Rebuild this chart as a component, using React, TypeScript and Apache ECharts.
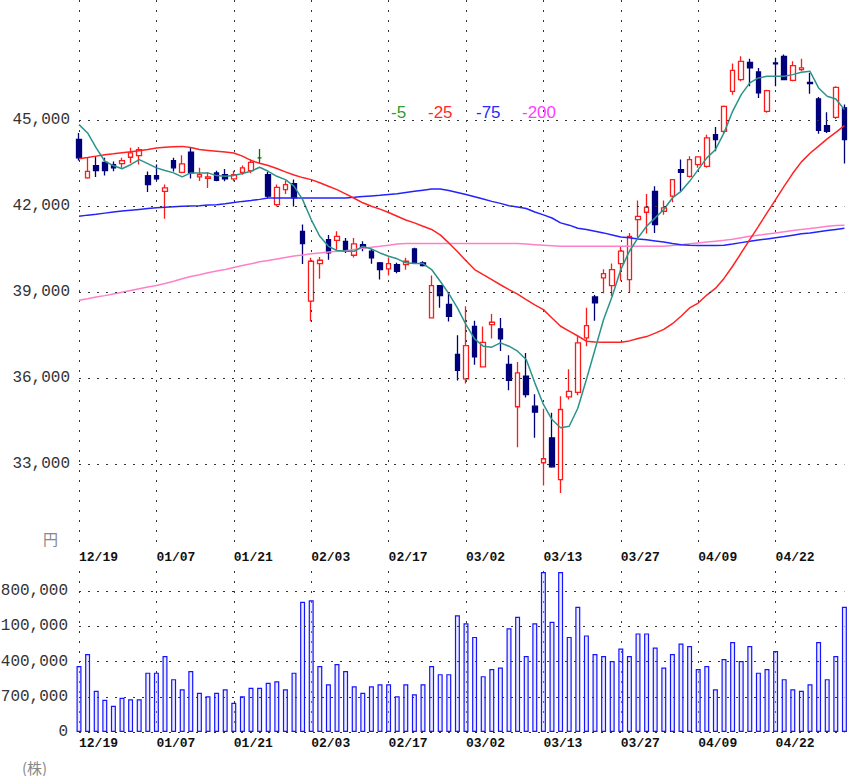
import React, { useEffect, useRef } from "react";
import * as echarts from "echarts";

const DATES = [
  "12/19","12/22","12/23","12/24","12/25","12/26","12/29","12/30","01/06","01/07",
  "01/08","01/09","01/13","01/14","01/15","01/16","01/19","01/20","01/21",
  "01/22","01/23","01/26","01/27","01/28","01/29","01/30","02/02","02/03",
  "02/04","02/05","02/06","02/09","02/10","02/12","02/13","02/16","02/17",
  "02/18","02/19","02/20","02/23","02/24","02/25","02/26","02/27","03/02",
  "03/03","03/04","03/05","03/06","03/09","03/10","03/11","03/12","03/13",
  "03/16","03/17","03/18","03/19","03/23","03/24","03/25","03/26","03/27",
  "03/30","03/31","04/01","04/02","04/03","04/06","04/07","04/08","04/09",
  "04/10","04/13","04/14","04/15","04/16","04/17","04/20","04/21","04/22",
  "04/23","04/24","04/27","04/28","04/30","05/01","05/07","05/08",
];

// [open, close, low, high]
const OHLC = [
  [44330,43690,43600,44560],[42990,43220,42960,43690],[43420,43245,43025,43745],[43535,43245,43070,43690],
  [43455,43340,43220,43565],[43490,43595,43340,43690],[43710,43860,43510,44040],[43770,43980,43455,44070],
  [43070,42755,42500,43210],[43070,42955,42900,43455],[42520,42640,41560,42760],[43595,43340,43210,43690],
  [43185,43480,43150,43780],[43885,43165,42965,44040],[43025,43105,42885,43340],[42975,43025,42640,43185],
  [43165,42905,42870,43240],[43105,42955,42870,43300],[42955,43105,42870,43240],[43185,43340,43100,43420],
  [43245,43535,43150,43640],[43690,43690,43500,44000],[43105,42350,42290,43200],[42060,42660,41990,42760],
  [42580,42755,42430,42900],[42790,42290,41990,42930],[41125,40695,39980,41360],[38685,40080,37985,40200],
  [40000,40115,39470,40230],[40835,40370,40130,41000],[40810,40950,40480,41125],[40775,40430,40370,40890],
  [40290,40685,40210,40890],[40660,40545,40430,40775],[40430,40195,39990,40510],[40025,39790,39440,40050],
  [39815,40000,39580,40210],[39965,39730,39660,40025],[39965,40080,39780,40200],[40510,40025,39990,40550],
  [40025,39930,39900,40080],[38105,39230,38105,39580],[39230,38880,38460,39230],[38570,38160,37980,39000],
  [36825,36275,35915,37500],[35975,37135,35810,38510],[37810,36740,36470,38000],[36395,37250,36370,37800],
  [37870,37950,37380,38240],[37720,37370,36950,38100],[36475,35925,35580,36800],[35000,36185,33590,36560],
  [36065,35425,35320,36880],[35020,34810,33920,35440],[33045,33185,32250,34930],[33915,32905,32870,34790],
  [32460,34905,31990,35370],[35345,35540,35250,36310],[35505,37230,35400,37460],[37405,37835,37115,38455],
  [38835,38625,38000,38900],[39500,39650,38965,39800],[39230,39790,38860,40000],[40000,40430,39400,40600],
  [39440,40950,39000,41070],[41535,41650,40870,42200],[41790,41965,41050,42430],[42520,41360,41070,42700],
  [41825,41945,41700,42200],[42350,42930,42140,42930],[43280,43185,42520,43630],[43045,43630,43000,43745],
  [43455,43725,43340,43745],[43395,44385,43340,44500],[44500,44325,43920,44770],[44615,45490,44560,45515],
  [46010,46745,45895,46980],[46420,47060,46360,47235],[47025,46830,46185,47145],[46690,45955,45780,46830],
  [45315,46035,45260,46070],[47000,46970,46185,47180],[47235,46420,46395,47295],[46395,46910,46360,47060],
  [46770,46830,46710,47145],[46325,46280,45930,46655],[45745,44650,44535,45815],[44815,44615,44560,45280],
  [45105,46150,45050,46185],[45435,44325,43490,45550],
];

const DOJI_GREEN = [21];

const VOLUME = [
  1310000,1550000,820000,640000,520000,680000,650000,650000,1180000,1180000,
  1510000,1050000,850000,1210000,780000,710000,780000,850000,580000,710000,
  880000,880000,980000,1010000,850000,1180000,2590000,2620000,1310000,950000,
  1350000,1210000,910000,780000,910000,950000,950000,710000,950000,750000,
  950000,1310000,1150000,1150000,2320000,2160000,1890000,1110000,1250000,1280000,
  2060000,2290000,1510000,2160000,3180000,2190000,3180000,1890000,2490000,1920000,
  1550000,1510000,1410000,1660000,1510000,1960000,1960000,1680000,1280000,1550000,
  1760000,1710000,1250000,1310000,850000,1450000,1790000,1410000,1710000,1180000,
  1250000,1610000,1050000,850000,820000,950000,1790000,1050000,1510000,2490000,
];

const MA5 = [
  44850,44560,44040,43570,43420,43310,43450,43630,43490,43340,
  43245,43165,43025,43165,43165,43165,43070,43045,43070,43140,
  43220,43360,43220,43045,42930,42700,42230,41535,40950,40600,
  40455,40430,40430,40600,40510,40370,40255,40165,40025,40000,
  40000,39790,39380,38950,38450,37870,37370,37115,37080,37230,
  37115,36940,36650,35835,35080,34555,34265,34320,34950,35950,
  37000,38045,38860,39790,40430,40895,41300,41595,41885,42290,
  42520,42870,43280,43690,43975,44560,45315,45895,46305,46480,
  46535,46535,46535,46595,46675,46710,46130,45840,45745,45375,
];

const MA25 = [
  43660,43700,43750,43800,43830,43870,43900,43940,43980,44030,
  44060,44080,44090,44050,43980,43950,43920,43890,43860,43750,
  43600,43500,43420,43320,43200,43090,43000,42930,42820,42700,
  42580,42430,42280,42120,42000,41900,41780,41650,41520,41420,
  41300,41190,41000,40720,40420,40100,39790,39610,39440,39260,
  39090,38930,38740,38560,38390,38100,37810,37640,37470,37290,
  37260,37250,37250,37250,37300,37380,37450,37570,37700,37900,
  38160,38450,38620,38900,39130,39480,39905,40370,40837,41300,
  41768,42230,42700,43150,43550,43850,44100,44350,44580,44815,
];

const MA75 = [
  41650,41690,41720,41760,41800,41830,41860,41890,41920,41945,
  41965,41985,42000,42010,42020,42040,42055,42090,42130,42170,
  42200,42240,42290,42290,42290,42290,42290,42290,42290,42290,
  42290,42290,42310,42340,42360,42380,42410,42440,42480,42520,
  42560,42600,42600,42550,42480,42410,42330,42250,42170,42100,
  42020,41970,41920,41800,41700,41590,41420,41340,41230,41190,
  41130,41070,41000,40930,40900,40860,40830,40790,40750,40700,
  40660,40640,40630,40630,40630,40640,40680,40730,40780,40820,
  40860,40900,40940,40990,41040,41070,41110,41150,41190,41230,
];

const MA200 = [
  38720,38770,38830,38880,38940,39000,39060,39120,39180,39230,
  39300,39380,39470,39550,39610,39680,39740,39790,39860,39930,
  39990,40060,40110,40160,40210,40260,40300,40340,40370,40400,
  40430,40450,40490,40530,40570,40600,40640,40680,40700,40700,
  40700,40700,40700,40700,40700,40700,40700,40700,40700,40700,
  40700,40700,40680,40660,40640,40620,40600,40600,40600,40600,
  40600,40600,40600,40600,40600,40600,40600,40600,40600,40630,
  40660,40690,40720,40750,40780,40810,40850,40900,40950,40990,
  41030,41070,41110,41150,41190,41220,41260,41300,41330,41340,
];

const PRICE_TICKS = [33000, 36000, 39000, 42000, 45000];
const VOLUME_TICKS = [0, 700000, 1400000, 2100000, 2800000];
const LABEL_EVERY = 9;

const LEGEND = [
  { text: "-5", color: "#2e9e2e", x: 391 },
  { text: "-25", color: "#ff2a2a", x: 428 },
  { text: "-75", color: "#2a2aff", x: 476 },
  { text: "-200", color: "#ff3cff", x: 522 },
];

const MONO = '"Liberation Mono", "DejaVu Sans Mono", monospace';

export default function App() {
  const ref = useRef<HTMLDivElement>(null);

  useEffect(() => {
    document.body.style.margin = "0";
    if (!ref.current) return;
    const chart = echarts.init(ref.current, undefined, { renderer: "svg" });

    const dotted = { type: [2, 7] as any, color: "#333", width: 1 };
    const vDotted = { type: [2, 8] as any, color: "#333", width: 1 };

    const candleData = OHLC.map((d, i) =>
      DOJI_GREEN.includes(i)
        ? {
            value: d,
            itemStyle: {
              color: "#0a6a0a",
              color0: "#0a6a0a",
              borderColor: "#0a6a0a",
              borderColor0: "#0a6a0a",
              borderColorDoji: "#0a6a0a",
            },
          }
        : d
    );

    const xAxisBase = (gridIndex: number, margin: number) => ({
      type: "category" as const,
      gridIndex,
      data: DATES,
      boundaryGap: false,
      axisLine: { show: false },
      axisTick: { show: false },
      axisLabel: {
        interval: (i: number) => i % LABEL_EVERY === 0,
        align: "left" as const,
        margin,
        fontFamily: MONO,
        fontWeight: "bold" as const,
        fontSize: 13,
        color: "#111",
      },
      splitLine: {
        show: true,
        interval: (i: number) => i % LABEL_EVERY === 0,
        lineStyle: vDotted,
      },
    });

    const maLine = (name: string, data: number[], color: string) => ({
      name,
      type: "line" as const,
      xAxisIndex: 0,
      yAxisIndex: 0,
      data,
      symbol: "none",
      smooth: false,
      lineStyle: { color, width: 1.5 },
      silent: true,
      z: 3,
    });

    chart.setOption({
      animation: false,
      backgroundColor: "#ffffff",
      grid: [
        { left: 79, right: 6.6, top: 0, height: 550, outerBoundsMode: "none" },
        { left: 79, right: 6.6, top: 571, height: 161, outerBoundsMode: "none" },
      ],
      xAxis: [xAxisBase(0, 1), xAxisBase(1, 5)],
      yAxis: [
        {
          type: "value",
          gridIndex: 0,
          min: 30000,
          max: 49200,
          interval: 3000,
          axisLine: { show: false },
          axisTick: { show: false },
          splitLine: { show: false },
          axisLabel: {
            formatter: (v: number) =>
              PRICE_TICKS.includes(v) ? v.toLocaleString("en-US") : "",
            margin: 9,
            fontFamily: MONO,
            fontSize: 16,
            color: "#333",
          },
        },
        {
          type: "value",
          gridIndex: 1,
          min: 0,
          max: 3200000,
          interval: 700000,
          axisLine: { show: false },
          axisTick: { show: false },
          splitLine: { show: false },
          axisLabel: {
            formatter: (v: number) =>
              VOLUME_TICKS.includes(v) ? (v % 1000000).toLocaleString("en-US") : "",
            margin: 11,
            fontFamily: MONO,
            fontSize: 16,
            color: "#333",
          },
        },
      ],
      series: [
        {
          name: "price",
          type: "candlestick",
          xAxisIndex: 0,
          yAxisIndex: 0,
          data: candleData,
          barWidth: 5,
          clip: false,
          itemStyle: {
            color: "#ffffff",
            color0: "#00007a",
            borderColor: "#ff1a1a",
            borderColor0: "#00007a",
            borderColorDoji: "#ff1a1a",
            borderWidth: 1.3,
          },
          markLine: {
            silent: true,
            symbol: ["none", "none"],
            label: { show: false },
            lineStyle: dotted,
            data: PRICE_TICKS.map((v) => ({ yAxis: v })),
          },
          z: 2,
        },
        maLine("-200", MA200, "#ff80c8"),
        maLine("-75", MA75, "#2323ff"),
        maLine("-25", MA25, "#ff2222"),
        maLine("-5", MA5, "#2b9488"),
        {
          name: "volume",
          type: "bar",
          xAxisIndex: 1,
          yAxisIndex: 1,
          data: VOLUME,
          barWidth: 5,
          itemStyle: {
            color: "rgba(200,200,255,0.35)",
            borderColor: "#1414ff",
            borderWidth: 1.2,
          },
          markLine: {
            silent: true,
            symbol: ["none", "none"],
            label: { show: false },
            lineStyle: dotted,
            data: VOLUME_TICKS.map((v) => ({ yAxis: v })),
          },
        },
      ],
      graphic: [
        ...LEGEND.map((l) => ({
          type: "text",
          x: l.x,
          y: 112,
          silent: true,
          style: {
            text: l.text,
            fill: l.color,
            font: '17px "Liberation Sans", Arial, sans-serif',
            verticalAlign: "middle",
          },
        })),
        {
          type: "text",
          x: 43,
          y: 538,
          silent: true,
          style: {
            text: "円",
            fill: "#888",
            font: '15px "Noto Sans CJK JP", sans-serif',
            verticalAlign: "middle",
          },
        },
        {
          type: "text",
          x: 22,
          y: 767,
          silent: true,
          style: {
            text: "(株)",
            fill: "#888",
            font: '15px "Noto Sans CJK JP", sans-serif',
            verticalAlign: "middle",
          },
        },
      ],
    });

    return () => chart.dispose();
  }, []);

  return <div ref={ref} style={{ width: 851, height: 776 }} />;
}
